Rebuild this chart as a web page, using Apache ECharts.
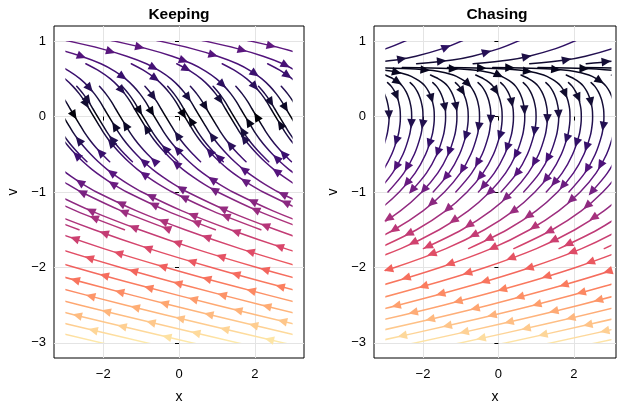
<!DOCTYPE html>
<html><head><meta charset="utf-8">
<script src="https://cdn.jsdelivr.net/npm/echarts@6.0.0/dist/echarts.min.js"></script>
<style>html,body{margin:0;padding:0;background:#fff;}#chart{width:621px;height:402px;}</style>
</head><body><div id="chart"></div>
<script>
// ---------------- data ----------------
// Streamline shape templates (x offset relative to a reference point, v)
const KEEP_TV = [1.2,1.1,1.0,0.9,0.8,0.7,0.6,0.5,0.4,0.3,0.2,0.1,0,-0.1,-0.2,-0.3,-0.4,-0.5,-0.6,-0.7,-0.8,-0.9,-1.0,-1.25,-1.5,-1.75,-2.0,-2.25,-2.5,-2.75,-3.0,-3.2];
const KEEP_TX = [-5.53,-4.44,-3.46,-2.61,-1.93,-1.41,-1.04,-0.76,-0.55,-0.38,-0.24,-0.12,0,0.12,0.24,0.38,0.54,0.72,0.92,1.15,1.42,1.72,2.07,3.13,4.41,5.86,7.51,9.31,11.25,13.29,15.41,17.17];

const CHASE_LV = [0.65,0.645,0.63,0.6,0.55,0.5,0.45,0.4,0.33,0.25,0.2,0.1,0,-0.1,-0.25,-0.5,-0.75,-1.0,-1.25,-1.5,-1.75,-2.0,-2.25,-2.5,-2.75,-3.0,-3.2];
const CHASE_LX = [-3.25,-2.49,-1.70,-1.11,-0.70,-0.49,-0.34,-0.24,-0.15,-0.08,-0.05,-0.01,0,-0.01,-0.06,-0.23,-0.51,-0.93,-1.50,-2.27,-3.29,-4.65,-6.29,-8.16,-10.25,-12.51,-14.48];

const CHASE_UV = [0.68,0.7,0.75,0.8,0.9,1.0,1.1,1.2];
const CHASE_UX = [0,0.83,1.78,2.31,3.02,3.52,3.94,4.31];

// Horizontal positions of the streamlines (offsets of the templates)
const KEEP_BASE   = [-17.45,-16.25,-15.05,-13.85,-12.65,-11.45,-10.25,-9.05,-7.85,-6.65,-5.45,-4.25,-3.05,-1.85,-0.65,0.55,1.75,2.95,4.15,5.35];
const KEEP_BAND_A = [-7.05,-5.85,-4.65,-3.45,-2.25,-1.05,0.15,1.35,2.55,3.75];
const KEEP_BAND_B = [-3.35,-2.75,-2.15,-1.55,-0.95,-0.35,0.25,0.85,1.45,2.05,2.65,3.25];

const CHASE_BASE   = [-2.9,-1.7,-0.5,0.7,1.9,3.1,4.3,5.5,6.7,7.9,9.1,10.3,11.5,12.7,13.9,15.1];
const CHASE_BAND_A = [-2.3,-1.1,0.1,1.3,2.5,3.7,4.9,6.1];
const CHASE_BAND_B = [-2.6,-2.0,-1.4,-0.8,-0.2,0.4,1.0,1.6,2.2,2.8,3.4];
const CHASE_UPPER  = [-6.0,-4.5,-3.0,-1.5,0,1.5];

// Colour (speed) along v
const KEEP_COLORS = [[1.2,'#6e1e81'],[1.0,'#641a80'],[0.75,'#4f127b'],[0.5,'#35106b'],[0.25,'#1a1042'],[0.1,'#0a0822'],[0,'#000004'],[-0.1,'#0a0822'],[-0.25,'#1d1147'],[-0.5,'#3b0f70'],[-0.75,'#58157e'],[-1.0,'#782281'],[-1.25,'#9a2d80'],[-1.5,'#bd3977'],[-1.75,'#dc4869'],[-2.0,'#f1605d'],[-2.25,'#fb7f5f'],[-2.5,'#feaa72'],[-2.75,'#fecb8e'],[-3.0,'#fdebab'],[-3.2,'#fcfdbf']];
const CHASE_COLORS = [[1.2,'#3b0f70'],[1.0,'#33126a'],[0.9,'#2c1160'],[0.75,'#180f3d'],[0.66,'#05041a'],[0.5,'#0b0924'],[0.25,'#120d31'],[0,'#1c1044'],[-0.25,'#2a1160'],[-0.5,'#3e0f72'],[-0.75,'#58157e'],[-1.0,'#752181'],[-1.25,'#982d80'],[-1.5,'#bb3878'],[-1.75,'#da4769'],[-2.0,'#f0605d'],[-2.25,'#fb7d5e'],[-2.5,'#fe9f6d'],[-2.75,'#fec287'],[-3.0,'#fde6a8'],[-3.2,'#fcfdbf']];

const X_TICKS = [-2, 0, 2];
const V_TICKS = [-3, -2, -1, 0, 1];
const TITLES = ['Keeping', 'Chasing'];

// ---------------- layout / style ----------------
const KEEP_XRANGE = [-3.3, 3.3];
const CHASE_XRANGE = [-3.3, 3.12];
const V_RANGE = [-3.2, 1.2];
const BOX_X = [-3, 3], BOX_V = [-3, 1];
const FONT = '"Liberation Sans", Arial, Helvetica, sans-serif';
const STEP = 46;

const TEMPLATES = {
  keep:   {v: KEEP_TV,  x: KEEP_TX,  down: v => v > 0},
  chaseL: {v: CHASE_LV, x: CHASE_LX, down: v => true},
  chaseU: {v: CHASE_UV, x: CHASE_UX, down: v => false}
};

function buildSegments(list) {
  const out = [];
  list.forEach(([key, offs, vTop, vBot]) => offs.forEach(c => out.push({key, c, vTop, vBot, seq: out.length})));
  return out;
}
const KEEP_SEGS = buildSegments([
  ['keep', KEEP_BASE, 1.2, -3.2],
  ['keep', KEEP_BAND_A, 0.7, -1.5],
  ['keep', KEEP_BAND_B, 0.4, -0.6]
]);
const CHASE_SEGS = buildSegments([
  ['chaseL', CHASE_BASE, 0.65, -3.2],
  ['chaseL', CHASE_BAND_A, 0.55, -1.75],
  ['chaseL', CHASE_BAND_B, 0.45, -1.0],
  ['chaseU', CHASE_UPPER, 1.2, 0.7]
]);

function hexToRgb(h){return [parseInt(h.slice(1,3),16),parseInt(h.slice(3,5),16),parseInt(h.slice(5,7),16)];}

function makeRenderer(segs, colors, mode) {
  const asc = colors.slice().sort((a,b)=>a[0]-b[0]);
  const rgb = asc.map(s => [s[0], hexToRgb(s[1])]);
  function colorAt(v) {
    if (v <= rgb[0][0]) return asc[0][1];
    for (let i = 1; i < rgb.length; i++) {
      if (v <= rgb[i][0]) {
        const t = (v - rgb[i-1][0]) / (rgb[i][0] - rgb[i-1][0]);
        const a = rgb[i-1][1], b = rgb[i][1];
        return 'rgb(' + [0,1,2].map(k => Math.round(a[k] + t*(b[k]-a[k]))).join(',') + ')';
      }
    }
    return asc[asc.length-1][1];
  }
  const stops = asc.map(st => ({offset: (V_RANGE[1]-st[0])/(V_RANGE[1]-V_RANGE[0]), color: st[1]})).sort((p,q)=>p.offset-q.offset);
  return function(params, api) {
    const s = segs[params.dataIndex];
    const T = TEMPLATES[s.key];
    const pts = [], vs = [];
    for (let i = 0; i < T.v.length; i++) {
      const v = T.v[i];
      if (v <= s.vTop + 1e-9 && v >= s.vBot - 1e-9) { pts.push(api.coord([T.x[i] + s.c, v])); vs.push(v); }
    }
    const a = api.coord([BOX_X[0], BOX_V[1]]), b = api.coord([BOX_X[1], BOX_V[0]]);
    const rect = {x: a[0], y: a[1], width: b[0]-a[0], height: b[1]-a[1]};
    if (mode === 'line') {
      const yTop = api.coord([0, V_RANGE[1]])[1], yBot = api.coord([0, V_RANGE[0]])[1];
      return {
        type: 'group',
        clipPath: {type: 'rect', shape: rect},
        children: [{
          type: 'polyline', silent: true,
          shape: {points: pts, smooth: 0.3},
          style: {fill: 'none', stroke: new echarts.graphic.LinearGradient(0, yTop, 0, yBot, stops, true), lineWidth: 1.5, lineCap: 'round'}
        }]
      };
    }
    // arrows
    const cum = [0];
    for (let i = 1; i < pts.length; i++) cum.push(cum[i-1] + Math.hypot(pts[i][0]-pts[i-1][0], pts[i][1]-pts[i-1][1]));
    const total = cum[cum.length-1];
    const children = [];
    let j = 0;
    for (let sp = (s.seq * 29) % STEP + 10; sp < total; sp += STEP) {
      while (j < cum.length - 2 && cum[j+1] < sp) j++;
      const L = cum[j+1] - cum[j];
      if (L <= 0) continue;
      const t = (sp - cum[j]) / L;
      const p = [pts[j][0] + t*(pts[j+1][0]-pts[j][0]), pts[j][1] + t*(pts[j+1][1]-pts[j][1])];
      const v = vs[j] + t*(vs[j+1]-vs[j]);
      if (p[0] < rect.x + 3 || p[0] > rect.x + rect.width - 3 || p[1] < rect.y + 3 || p[1] > rect.y + rect.height - 3) continue;
      let dx = (pts[j+1][0]-pts[j][0]) / L, dy = (pts[j+1][1]-pts[j][1]) / L;
      const down = T.down(v);
      if ((down && dy < 0) || (!down && dy > 0)) { dx = -dx; dy = -dy; }
      const nx = -dy, ny = dx, w = 4.3;
      const tip = [p[0] + dx*5, p[1] + dy*5];
      const bk = [p[0] - dx*4.5, p[1] - dy*4.5];
      children.push({
        type: 'polygon', silent: true,
        shape: {points: [tip, [bk[0]+nx*w, bk[1]+ny*w], [bk[0]-nx*w, bk[1]-ny*w]]},
        style: {fill: colorAt(v), stroke: null}
      });
    }
    return {type: 'group', children};
  };
}

function fmt(v) { return v < 0 ? '\u2212' + Math.abs(v) : String(v); }

function xAxis(idx, range) {
  return {
    type: 'value', gridIndex: idx, min: range[0], max: range[1], splitNumber: 3,
    name: 'x', nameLocation: 'middle', nameGap: 32,
    nameTextStyle: {fontFamily: FONT, fontSize: 14, color: '#000'},
    axisLine: {show: false},
    axisTick: {show: true, length: 4, inside: false, customValues: X_TICKS, lineStyle: {color: '#000', width: 1}},
    axisLabel: {customValues: X_TICKS, margin: 10, formatter: fmt, fontFamily: FONT, fontSize: 13, color: '#000'},
    splitLine: {show: true, lineStyle: {color: '#e4e4e4', width: 1}}
  };
}
function yAxis(idx) {
  return {
    type: 'value', gridIndex: idx, min: V_RANGE[0], max: V_RANGE[1], splitNumber: 4,
    name: 'v', nameLocation: 'middle', nameGap: 34, nameRotate: 90,
    nameTextStyle: {fontFamily: FONT, fontSize: 14, color: '#000'},
    axisLine: {show: false},
    axisTick: {show: true, length: 4, inside: false, customValues: V_TICKS, lineStyle: {color: '#000', width: 1}},
    axisLabel: {customValues: V_TICKS, margin: 8, formatter: fmt, fontFamily: FONT, fontSize: 13, color: '#000'},
    splitLine: {show: true, lineStyle: {color: '#e4e4e4', width: 1}}
  };
}

const chart = echarts.init(document.getElementById('chart'), null, {renderer: 'canvas'});
const segSets = [KEEP_SEGS, CHASE_SEGS];
const colSets = [KEEP_COLORS, CHASE_COLORS];
const series = [];
[0, 1].forEach(i => {
  const data = segSets[i].map(s => [s.c, s.vTop, s.vBot, s.seq]);
  series.push({type: 'custom', xAxisIndex: i, yAxisIndex: i, clip: false, silent: true, z: 2,
    encode: {x: 0, y: 1}, data, renderItem: makeRenderer(segSets[i], colSets[i], 'line')});
  series.push({type: 'custom', xAxisIndex: i, yAxisIndex: i, clip: false, silent: true, z: 3,
    encode: {x: 0, y: 1}, data, renderItem: makeRenderer(segSets[i], colSets[i], 'arrow')});
});

chart.setOption({
  animation: false,
  backgroundColor: '#fff',
  grid: [
    {left: 54, top: 26, width: 250, height: 332, containLabel: false, outerBoundsMode: 'none', show: true, borderColor: '#000', borderWidth: 1, backgroundColor: 'transparent'},
    {left: 374, top: 26, width: 242, height: 332, containLabel: false, outerBoundsMode: 'none', show: true, borderColor: '#000', borderWidth: 1, backgroundColor: 'transparent'}
  ],
  xAxis: [xAxis(0, KEEP_XRANGE), xAxis(1, CHASE_XRANGE)],
  yAxis: [yAxis(0), yAxis(1)],
  graphic: [
    {type: 'text', x: 179, y: 15, style: {text: TITLES[0], font: 'bold 15.5px ' + FONT, fill: '#000', textAlign: 'center', textVerticalAlign: 'middle', verticalAlign: 'middle'}},
    {type: 'text', x: 497, y: 15, style: {text: TITLES[1], font: 'bold 15.5px ' + FONT, fill: '#000', textAlign: 'center', textVerticalAlign: 'middle', verticalAlign: 'middle'}}
  ],
  series
});
</script>
</body></html>
